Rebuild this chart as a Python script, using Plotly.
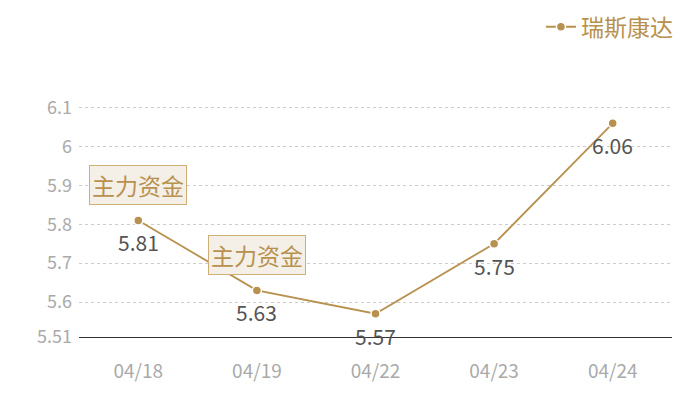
import plotly.graph_objects as go

# data
dates = ['04/18', '04/19', '04/22', '04/23', '04/24']
prices = [5.81, 5.63, 5.57, 5.75, 6.06]
series_name = '瑞斯康达'

# flagged days with a label box above the point
flag_dates = ['04/18', '04/19']
flag_values = [5.81, 5.63]
flag_text = '主力资金'

y_ticks = [5.51, 5.6, 5.7, 5.8, 5.9, 6.0, 6.1, 6.12]
y_labels = ['5.51', '5.6', '5.7', '5.8', '5.9', '6', '6.1', '']

gold = '#b8914e'
font_family = 'Noto Sans CJK SC, Noto Sans, sans-serif'

fig = go.Figure()
fig.add_trace(go.Scatter(
    x=dates, y=prices, name=series_name,
    mode='lines+markers',
    line=dict(color=gold, width=1.8),
    marker=dict(color=gold, size=9, line=dict(color='white', width=1.5)),
    cliponaxis=False,
))

# value labels under each point
for d, v in zip(dates, prices):
    fig.add_annotation(
        x=d, y=v, text=f'{v:g}', showarrow=False, yshift=-22,
        font=dict(size=21, color='#555555', family=font_family),
    )

# label boxes
for d, v in zip(flag_dates, flag_values):
    fig.add_annotation(
        x=d, y=v, text=flag_text, showarrow=False, yshift=35,
        font=dict(size=23, color=gold, family=font_family),
        bgcolor='#f4efe7', bordercolor='#cfae78', borderwidth=1, borderpad=2,
    )

# page body adds an 8px offset, margins are set so the plot lands where the reference has it
fig.update_layout(
    width=700, height=400,
    margin=dict(l=71, r=36, t=92, b=71),
    plot_bgcolor='white', paper_bgcolor='white',
    font=dict(family=font_family),
    showlegend=True,
    legend=dict(
        x=1.01, xanchor='right', yref='container', y=0.953, yanchor='middle',
        orientation='h', font=dict(size=23, color=gold),
        itemwidth=30, bgcolor='rgba(0,0,0,0)',
    ),
    xaxis=dict(
        type='category', range=[-0.5, 4.5], automargin=False,
        showgrid=False, showline=True, linecolor='#333333', linewidth=1.2,
        ticks='', tickfont=dict(size=19, color='#aaaaaa'),
        ticklabelstandoff=17,
    ),
    yaxis=dict(
        range=[5.51, 6.12], tickvals=y_ticks, ticktext=y_labels,
        automargin=False,
        showgrid=True, gridcolor='#cccccc', griddash='dot', gridwidth=1,
        zeroline=False, showline=False, ticks='',
        tickfont=dict(size=18, color='#aaaaaa'),
        ticklabelstandoff=6,
    ),
)

fig.write_html('out.html')
